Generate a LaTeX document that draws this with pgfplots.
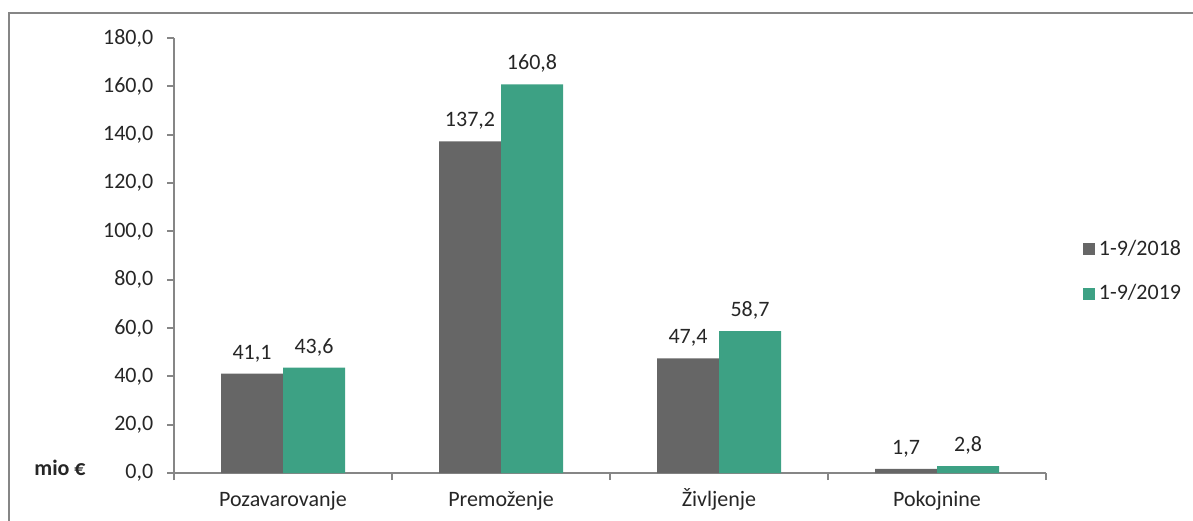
\documentclass[border=0pt]{standalone}
\usepackage{pgfplots}
\pgfplotsset{compat=1.18}
\usepackage{fontspec}
\setmainfont{Carlito}
\definecolor{cgray}{HTML}{666666}
\definecolor{cgreen}{HTML}{3DA184}
\definecolor{axgray}{HTML}{868686}
\definecolor{txt}{HTML}{262626}
\begin{document}
\fontsize{11pt}{13pt}\selectfont
\begin{tikzpicture}[x=0.5pt,y=0.5pt]
\useasboundingbox (0,0) rectangle (1193,520);
\draw[axgray,line width=1pt] (9,-5) -- (9,507) -- (1200,507);
\node[font=\bfseries,text=txt] at (60,52) {mio €};
\begin{axis}[
  at={(87pt,23.5pt)}, anchor=south west,
  scale only axis, width=436pt, height=217.5pt,
  ybar=0pt, bar width=31pt,
  xmin=-0.5, xmax=3.5, ymin=0, ymax=180,
  ytick={0,20,...,180},
  xtick={-0.5,0.5,1.5,2.5,3.5},
  xticklabels={},
  extra x ticks={0,1,2,3},
  extra x tick labels={Pozavarovanje,Premoženje,Življenje,Pokojnine},
  extra x tick style={major tick length=0pt, xticklabel style={text=txt,yshift=-5pt,text height=8pt,text depth=2.5pt}},
  axis lines*=left,
  axis line style={axgray,line width=0.9pt},
  major tick length=3.5pt,
  tick align=outside,
  tick style={axgray,line width=0.9pt},
  yticklabel style={text=txt,xshift=-3pt},
  /pgf/number format/.cd, fixed, fixed zerofill, precision=1, use comma, assume math mode=true,
  /pgfplots/.cd,
  nodes near coords,
  every node near coord/.append style={text=txt,yshift=2pt,/pgf/number format/.cd, fixed, fixed zerofill, precision=1, use comma, assume math mode=true},
  legend style={draw=none, at={(1.035,0.463)}, anchor=west, row sep=9pt, font=\fontsize{11pt}{13pt}\selectfont, text=txt},
  legend cell align=left,
  legend image code/.code={\fill[#1] (0pt,-3pt) rectangle (6pt,3pt);},
]
\addplot[draw=none, fill=cgray] coordinates {(0,41.1) (1,137.2) (2,47.4) (3,1.7)};
\addplot[draw=none, fill=cgreen] coordinates {(0,43.6) (1,160.8) (2,58.7) (3,2.8)};
\legend{1-9/2018,1-9/2019}
\end{axis}
\end{tikzpicture}
\end{document}
